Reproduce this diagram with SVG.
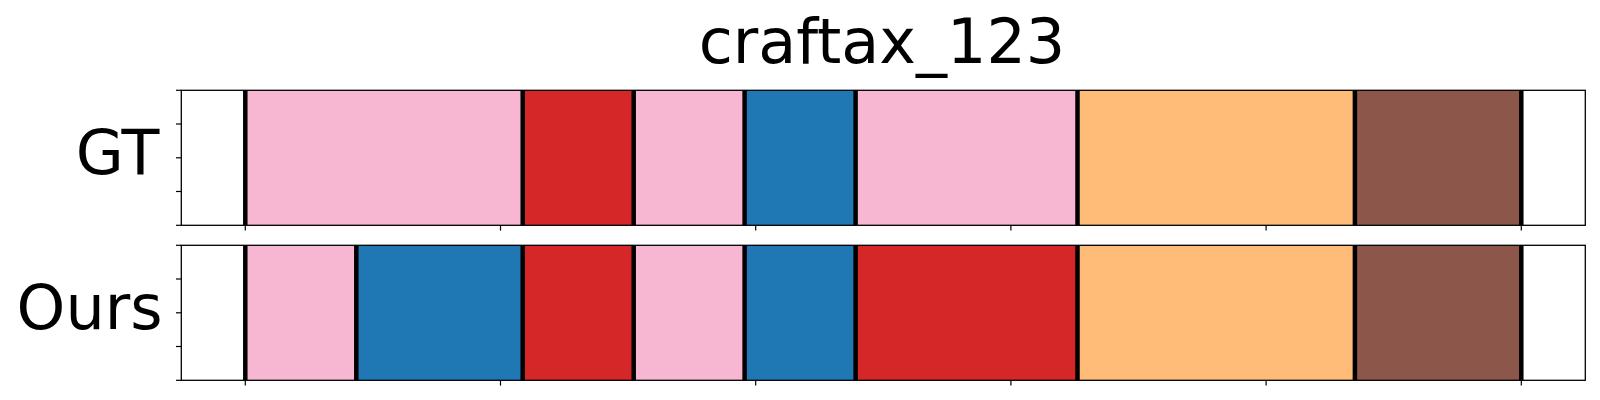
<svg xmlns="http://www.w3.org/2000/svg" width="1600" height="400" viewBox="0 0 1600 400">
<style>
text{font-family:"DejaVu Sans","Liberation Sans",sans-serif;fill:#000}
.t{font-size:62px;text-anchor:middle}
.l{font-size:62px;text-anchor:end}
.pk{fill:#f7b6d2}.rd{fill:#d62728}.bl{fill:#1f77b4}.or{fill:#ffbb78}.br{fill:#8c564b}
.b{stroke:#000;stroke-width:4.5}
.sp{fill:none;stroke:#000;stroke-width:1.3}
.tk{stroke:#000;stroke-width:1.2}
</style>
<rect width="1600" height="400" fill="#fff"/>
<text id="title" class="t" x="882" y="62.7">craftax_123</text>
<g id="gt">
<text class="l" x="159.5" y="174.3">GT</text>
<g id="gt-segs">
<rect class="pk" x="245.3" y="90.3" width="277.4" height="135"/>
<rect class="rd" x="522.7" y="90.3" width="111" height="135"/>
<rect class="pk" x="633.7" y="90.3" width="110.9" height="135"/>
<rect class="bl" x="744.6" y="90.3" width="111" height="135"/>
<rect class="pk" x="855.6" y="90.3" width="221.9" height="135"/>
<rect class="or" x="1077.5" y="90.3" width="277.4" height="135"/>
<rect class="br" x="1354.9" y="90.3" width="166.4" height="135"/>
</g>
<g id="gt-bounds">
<line class="b" x1="245.3" y1="90.3" x2="245.3" y2="225.3"/>
<line class="b" x1="522.7" y1="90.3" x2="522.7" y2="225.3"/>
<line class="b" x1="633.7" y1="90.3" x2="633.7" y2="225.3"/>
<line class="b" x1="744.6" y1="90.3" x2="744.6" y2="225.3"/>
<line class="b" x1="855.6" y1="90.3" x2="855.6" y2="225.3"/>
<line class="b" x1="1077.5" y1="90.3" x2="1077.5" y2="225.3"/>
<line class="b" x1="1354.9" y1="90.3" x2="1354.9" y2="225.3"/>
<line class="b" x1="1521.3" y1="90.3" x2="1521.3" y2="225.3"/>
</g>
<rect class="sp" x="181.3" y="90.3" width="1404" height="135"/>
<g id="gt-ticks">
<line class="tk" x1="176" y1="90.3" x2="181.3" y2="90.3"/>
<line class="tk" x1="176" y1="124" x2="181.3" y2="124"/>
<line class="tk" x1="176" y1="157.8" x2="181.3" y2="157.8"/>
<line class="tk" x1="176" y1="191.5" x2="181.3" y2="191.5"/>
<line class="tk" x1="176" y1="225.3" x2="181.3" y2="225.3"/>
<line class="tk" x1="245.3" y1="225.3" x2="245.3" y2="230.6"/>
<line class="tk" x1="500.5" y1="225.3" x2="500.5" y2="230.6"/>
<line class="tk" x1="755.7" y1="225.3" x2="755.7" y2="230.6"/>
<line class="tk" x1="1010.9" y1="225.3" x2="1010.9" y2="230.6"/>
<line class="tk" x1="1266.1" y1="225.3" x2="1266.1" y2="230.6"/>
<line class="tk" x1="1521.3" y1="225.3" x2="1521.3" y2="230.6"/>
</g>
</g>
<g id="ours">
<text class="l" x="162.5" y="329.3">Ours</text>
<g id="ours-segs">
<rect class="pk" x="245.3" y="245.3" width="111" height="135"/>
<rect class="bl" x="356.3" y="245.3" width="166.4" height="135"/>
<rect class="rd" x="522.7" y="245.3" width="111" height="135"/>
<rect class="pk" x="633.7" y="245.3" width="110.9" height="135"/>
<rect class="bl" x="744.6" y="245.3" width="111" height="135"/>
<rect class="rd" x="855.6" y="245.3" width="221.9" height="135"/>
<rect class="or" x="1077.5" y="245.3" width="277.4" height="135"/>
<rect class="br" x="1354.9" y="245.3" width="166.4" height="135"/>
</g>
<g id="ours-bounds">
<line class="b" x1="245.3" y1="245.3" x2="245.3" y2="380.3"/>
<line class="b" x1="356.3" y1="245.3" x2="356.3" y2="380.3"/>
<line class="b" x1="522.7" y1="245.3" x2="522.7" y2="380.3"/>
<line class="b" x1="633.7" y1="245.3" x2="633.7" y2="380.3"/>
<line class="b" x1="744.6" y1="245.3" x2="744.6" y2="380.3"/>
<line class="b" x1="855.6" y1="245.3" x2="855.6" y2="380.3"/>
<line class="b" x1="1077.5" y1="245.3" x2="1077.5" y2="380.3"/>
<line class="b" x1="1354.9" y1="245.3" x2="1354.9" y2="380.3"/>
<line class="b" x1="1521.3" y1="245.3" x2="1521.3" y2="380.3"/>
</g>
<rect class="sp" x="181.3" y="245.3" width="1404" height="135"/>
<g id="ours-ticks">
<line class="tk" x1="176" y1="245.3" x2="181.3" y2="245.3"/>
<line class="tk" x1="176" y1="279" x2="181.3" y2="279"/>
<line class="tk" x1="176" y1="312.8" x2="181.3" y2="312.8"/>
<line class="tk" x1="176" y1="346.5" x2="181.3" y2="346.5"/>
<line class="tk" x1="176" y1="380.3" x2="181.3" y2="380.3"/>
<line class="tk" x1="245.3" y1="380.3" x2="245.3" y2="385.6"/>
<line class="tk" x1="500.5" y1="380.3" x2="500.5" y2="385.6"/>
<line class="tk" x1="755.7" y1="380.3" x2="755.7" y2="385.6"/>
<line class="tk" x1="1010.9" y1="380.3" x2="1010.9" y2="385.6"/>
<line class="tk" x1="1266.1" y1="380.3" x2="1266.1" y2="385.6"/>
<line class="tk" x1="1521.3" y1="380.3" x2="1521.3" y2="385.6"/>
</g>
</g>
</svg>
